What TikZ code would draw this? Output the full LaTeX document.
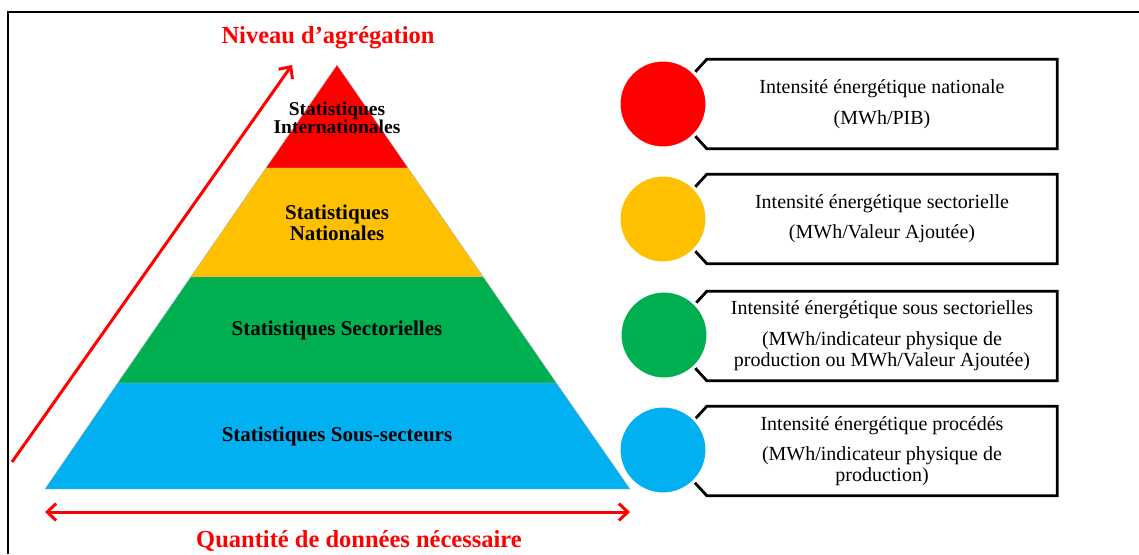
\documentclass[tikz,border=0pt]{standalone}
\usepackage{fontspec}
\setmainfont{Liberation Serif}
\usetikzlibrary{arrows.meta,positioning,calc}
\definecolor{lvred}{HTML}{FF0000}
\definecolor{lvyellow}{HTML}{FFC000}
\definecolor{lvgreen}{HTML}{00B050}
\definecolor{lvblue}{HTML}{00B0F0}
\tikzset{
  layer/.style={draw=black!30,line width=0.4pt},
  laylabel/.style={font=\bfseries\fontsize{21}{20.5}\selectfont,align=center,inner sep=0pt},
  dot/.style={circle,draw=white,line width=3pt,minimum size=88pt,inner sep=0pt},
  infobox/.style={minimum width=350pt,minimum height=89pt,align=center,inner sep=0pt,font=\fontsize{20}{21}\selectfont},
  boxline/.style={line width=2.8pt,line join=miter},
  redarrow/.style={red,line width=3pt,-{Straight Barb[length=9pt,width=17pt,line width=3pt]}},
  redboth/.style={red,line width=3pt,{Straight Barb[length=9pt,width=17pt,line width=3pt]}-{Straight Barb[length=9pt,width=17pt,line width=3pt]}},
  axistitle/.style={text=red,font=\bfseries\fontsize{24.5}{26}\selectfont,inner sep=0pt}
}

\begin{document}
\begin{tikzpicture}[x=1pt,y=-1pt]
  \useasboundingbox (0,0) rectangle (1139,554);
  \draw[line width=1.5pt] (8,554) -- (8,12) -- (1139,12);

  % pyramide
  \coordinate (apex) at (337,65);
  \fill[lvred,layer] (apex) -- (408.1,168) -- (265.9,168) -- cycle;
  \fill[lvyellow,layer] (265.9,168) -- (408.1,168) -- (483.3,277) -- (190.7,277) -- cycle;
  \fill[lvgreen,layer] (190.7,277) -- (483.3,277) -- (556.4,383) -- (117.6,383) -- cycle;
  \fill[lvblue,layer] (117.6,383) -- (556.4,383) -- (630,489) -- (45,489) -- cycle;

  \node[laylabel,font=\bfseries\fontsize{19.5}{18.5}\selectfont] (inter) at (337,118) {Statistiques\\Internationales};
  \node[laylabel] (nat) at (337,223) {Statistiques\\Nationales};
  \node[laylabel] (sect) at (337,330) {Statistiques Sectorielles};
  \node[laylabel] (sous) at (337,436) {Statistiques Sous-secteurs};

  % axes
  \node[axistitle] (niveau) at (328,38) {Niveau d’agrégation};
  \node[axistitle] (quant) at (359,541) {Quantité de données nécessaire};
  \coordinate (aggstart) at (12,462);
  \coordinate (aggend) at (292,65);
  \coordinate (qleft) at (45,512);
  \coordinate (qright) at (630,512);
  \draw[redarrow] (aggstart) -- (aggend);
  \draw[redboth] (qleft) -- (qright);

  % indicateurs
  \node[infobox] (b1) at (882,104) {Intensité énergétique nationale\\[10pt](MWh/PIB)};
  \node[infobox] (b2) at (882,219) {Intensité énergétique sectorielle\\[9pt](MWh/Valeur Ajoutée)};
  \node[infobox] (b3) at (882,336) {Intensité énergétique sous sectorielles\\[10pt](MWh/indicateur physique de\\production ou MWh/Valeur Ajoutée)};
  \node[infobox] (b4) at (882,451) {Intensité énergétique procédés\\[9pt](MWh/indicateur physique de\\production)};
  \foreach \b in {b1,b2,b3,b4}
    \draw[boxline] ([xshift=-12pt,yshift=-13pt]\b.north west) -- (\b.north west) -- (\b.north east)
      -- (\b.south east) -- (\b.south west) -- ([xshift=-12pt,yshift=13pt]\b.south west);

  \node[dot,fill=lvred] (c1) at (663,104) {};
  \node[dot,fill=lvyellow] (c2) at (663,219) {};
  \node[dot,fill=lvgreen] (c3) at (664,335) {};
  \node[dot,fill=lvblue] (c4) at (663,450) {};
\end{tikzpicture}
\end{document}
